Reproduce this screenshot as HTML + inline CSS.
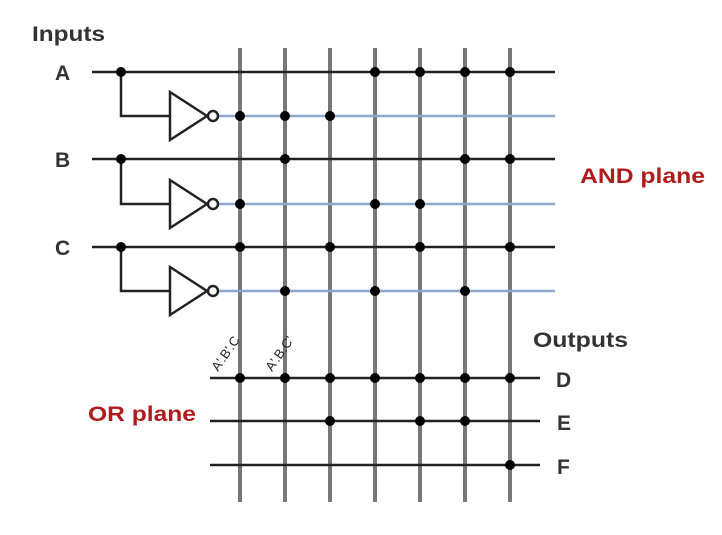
<!DOCTYPE html>
<html><head><style>body{margin:0;background:#fff}</style></head><body>
<svg width="722" height="530" xmlns="http://www.w3.org/2000/svg" font-family="Liberation Sans, sans-serif">
<g stroke="#777" stroke-width="4">
<line x1="240" y1="48" x2="240" y2="502"/><line x1="285" y1="48" x2="285" y2="502"/>
<line x1="330" y1="48" x2="330" y2="502"/><line x1="375" y1="48" x2="375" y2="502"/>
<line x1="420" y1="48" x2="420" y2="502"/><line x1="465" y1="48" x2="465" y2="502"/>
<line x1="510" y1="48" x2="510" y2="502"/>
</g>
<g stroke="#222" stroke-width="2.5" fill="none">
<line x1="92" y1="72" x2="555" y2="72"/><line x1="92" y1="159" x2="555" y2="159"/><line x1="92" y1="247" x2="555" y2="247"/>
<line x1="210" y1="378" x2="540" y2="378"/><line x1="210" y1="421" x2="540" y2="421"/><line x1="210" y1="465" x2="540" y2="465"/>
<polyline points="121,72 121,116 170,116"/><polyline points="121,159 121,204 170,204"/><polyline points="121,247 121,291 170,291"/>
<polygon points="170,92 170,140 207,116"/><polygon points="170,180 170,228 207,204"/><polygon points="170,267 170,315 207,291"/>
<circle cx="213" cy="116" r="5"/><circle cx="213" cy="204" r="5"/><circle cx="213" cy="291" r="5"/>
</g>
<g stroke="#8ea6cc" stroke-width="2.5">
<line x1="219" y1="116" x2="555" y2="116"/><line x1="219" y1="204" x2="555" y2="204"/><line x1="219" y1="291" x2="555" y2="291"/>
</g>
<g fill="#000">
<circle cx="121" cy="72" r="5"/><circle cx="375" cy="72" r="5"/><circle cx="420" cy="72" r="5"/><circle cx="465" cy="72" r="5"/><circle cx="510" cy="72" r="5"/>
<circle cx="240" cy="116" r="5"/><circle cx="285" cy="116" r="5"/><circle cx="330" cy="116" r="5"/>
<circle cx="121" cy="159" r="5"/><circle cx="285" cy="159" r="5"/><circle cx="465" cy="159" r="5"/><circle cx="510" cy="159" r="5"/>
<circle cx="240" cy="204" r="5"/><circle cx="375" cy="204" r="5"/><circle cx="420" cy="204" r="5"/>
<circle cx="121" cy="247" r="5"/><circle cx="240" cy="247" r="5"/><circle cx="330" cy="247" r="5"/><circle cx="420" cy="247" r="5"/><circle cx="510" cy="247" r="5"/>
<circle cx="285" cy="291" r="5"/><circle cx="375" cy="291" r="5"/><circle cx="465" cy="291" r="5"/>
<circle cx="240" cy="378" r="5"/><circle cx="285" cy="378" r="5"/><circle cx="330" cy="378" r="5"/><circle cx="375" cy="378" r="5"/><circle cx="420" cy="378" r="5"/><circle cx="465" cy="378" r="5"/><circle cx="510" cy="378" r="5"/>
<circle cx="330" cy="421" r="5"/><circle cx="420" cy="421" r="5"/><circle cx="465" cy="421" r="5"/>
<circle cx="510" cy="465" r="5"/>
</g>
<g font-weight="bold" font-size="21" fill="#333">
<text x="32" y="41" textLength="73" lengthAdjust="spacingAndGlyphs">Inputs</text>
<text x="55" y="80">A</text><text x="55" y="167">B</text><text x="55" y="255">C</text>
<text x="533" y="347" textLength="95" lengthAdjust="spacingAndGlyphs">Outputs</text>
<text x="556" y="387">D</text><text x="557" y="430">E</text><text x="557" y="474">F</text>
</g>
<g font-weight="bold" font-size="21" fill="#b01c1c">
<text x="580" y="183" textLength="125" lengthAdjust="spacingAndGlyphs">AND plane</text>
<text x="88" y="421" textLength="108" lengthAdjust="spacingAndGlyphs">OR plane</text>
</g>
<g font-size="13" fill="#222">
<text transform="translate(218,372) rotate(-55)">A'.B'.C</text>
<text transform="translate(272,372) rotate(-55)">A'.B.C'</text>
</g>
</svg>
</body></html>
